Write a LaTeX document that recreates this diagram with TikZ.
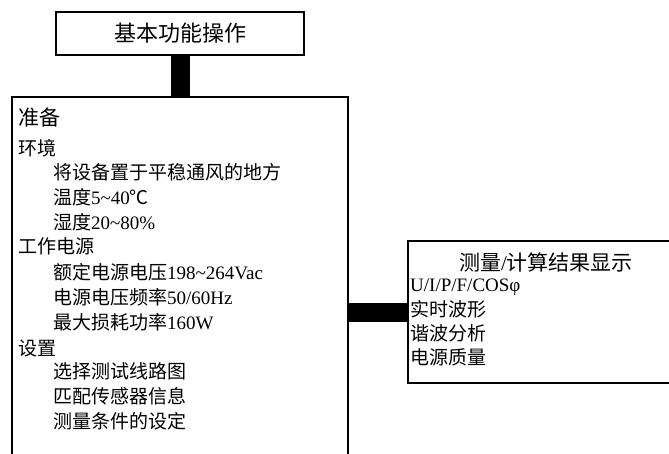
\documentclass[tikz,border=0pt]{standalone}
\usepackage{fontspec}
\setmainfont{Liberation Serif}
\newfontfamily\cjk{Noto Sans CJK SC}
\begin{document}
\begin{tikzpicture}[x=1pt,y=1pt,
  box/.style={draw, line width=1.6pt, inner sep=0pt},
  bar/.style={line width=19pt},
  head/.style={anchor=west, inner sep=0pt, font=\fontsize{21}{24}\selectfont},
  item/.style={anchor=west, inner sep=0pt, font=\fontsize{19}{22}\selectfont},
  title/.style={inner sep=0pt, font=\fontsize{22}{26}\selectfont}]
\path[use as bounding box] (0,0) rectangle (669,-454);
\clip (0,0) rectangle (669,-454);
% boxes
\node[box, minimum width=248pt, minimum height=43pt] (top) at (180,-33.5) {};
\node[box, minimum width=336pt, minimum height=380pt] (prep) at (180,-287) {};
\node[box, minimum width=276pt, minimum height=142pt] (meas) at (546,-312) {};
% connectors
\draw[bar] (top.south) -- (prep.north);
\draw[bar] (prep.east |- meas.west) -- (meas.west);
% top title
\node[title] (toptitle) at (top.center) {\cjk 基本功能操作};
% left box texts
\node[head] (t1) at (18,-117) {\cjk 准备};
\node[item] (t2) at (18,-148) {\cjk 环境};
\node[item] (t3) at (53,-172) {\cjk 将设备置于平稳通风的地方};
\node[item] (t4) at (53,-197) {{\cjk 温度}5\textasciitilde40{\cjk ℃}};
\node[item] (t5) at (53,-222) {{\cjk 湿度}20\textasciitilde80\%};
\node[item] (t6) at (18,-246) {\cjk 工作电源};
\node[item] (t7) at (53,-272) {{\cjk 额定电源电压}198\textasciitilde264Vac};
\node[item] (t8) at (53,-297) {{\cjk 电源电压频率}50/60Hz};
\node[item] (t9) at (53,-322) {{\cjk 最大损耗功率}160W};
\node[item] (t10) at (18,-348) {\cjk 设置};
\node[item] (t11) at (53,-371) {\cjk 选择测试线路图};
\node[item] (t12) at (53,-396) {\cjk 匹配传感器信息};
\node[item] (t13) at (53,-421) {\cjk 测量条件的设定};
% right box texts
\node[title, font=\fontsize{21}{24}\selectfont] (r0) at (546,-262) {{\cjk 测量}/{\cjk 计算结果显示}};
\node[item] (r1) at (410,-287) {U/I/P/F/COSφ};
\node[item] (r2) at (410,-309) {\cjk 实时波形};
\node[item] (r3) at (410,-333) {\cjk 谐波分析};
\node[item] (r4) at (410,-357) {\cjk 电源质量};
\end{tikzpicture}
\end{document}
